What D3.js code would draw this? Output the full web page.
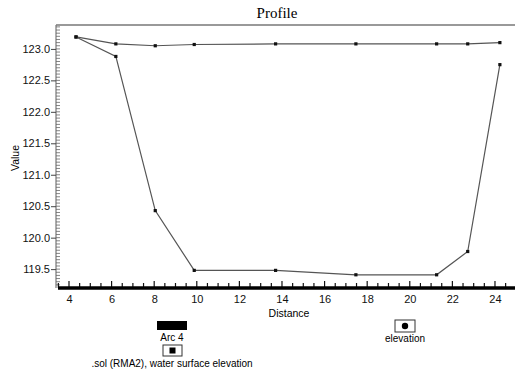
<!DOCTYPE html>
<html>
<head>
<meta charset="utf-8">
<script src="https://cdn.jsdelivr.net/npm/d3@7"></script>
<style>
  body { margin: 0; background: #fff; }
  text { font-family: "Liberation Sans", Arial, sans-serif; }
</style>
</head>
<body>
<svg id="chart" width="515" height="373"></svg>
<script>
// distances along the arc
var distance = [4.33, 6.2, 8.05, 9.88, 13.7, 17.47, 21.26, 22.72, 24.23];
// .sol (RMA2) water surface elevation
var waterSurface = [123.19, 123.08, 123.05, 123.07, 123.08, 123.08, 123.08, 123.08, 123.1];
// bed elevation
var elevation = [123.19, 122.88, 120.43, 119.48, 119.48, 119.41, 119.41, 119.78, 122.75];

var xTicks = [4, 6, 8, 10, 12, 14, 16, 18, 20, 22, 24];
var yTicks = [119.5, 120.0, 120.5, 121.0, 121.5, 122.0, 122.5, 123.0];

var svg = d3.select("#chart");
var plotLeft = 56, plotRight = 515, plotTop = 25, plotBottom = 288;

var x = d3.scaleLinear().domain([3.39, 24.94]).range([plotLeft, plotRight]);
var y = d3.scaleLinear().domain([119.2, 123.38]).range([plotBottom, plotTop]);

// title
svg.append("text")
  .attr("x", 277).attr("y", 18)
  .attr("text-anchor", "middle")
  .style("font-family", "'Liberation Serif', 'Times New Roman', serif")
  .style("font-size", "15px")
  .text("Profile");

// frame lines (top and left)
svg.append("line").attr("x1", plotLeft).attr("x2", plotRight).attr("y1", plotTop).attr("y2", plotTop)
  .attr("stroke", "#777").attr("stroke-width", 1.5);
svg.append("line").attr("x1", plotLeft).attr("x2", plotLeft).attr("y1", plotTop).attr("y2", plotBottom)
  .attr("stroke", "#777").attr("stroke-width", 1.2);

// y axis minor ticks
var yMinor = d3.range(119.25, 123.38, 0.05);
svg.append("g").selectAll("line").data(yMinor).join("line")
  .attr("x1", plotLeft).attr("x2", plotLeft + 4)
  .attr("y1", function(d) { return y(d); }).attr("y2", function(d) { return y(d); })
  .attr("stroke", "#666").attr("stroke-width", 0.8);

var yAxis = svg.append("g")
  .attr("transform", "translate(" + plotLeft + ",0)")
  .call(d3.axisLeft(y).tickValues(yTicks).tickFormat(d3.format(".1f")).tickSize(5).tickPadding(1));
yAxis.select(".domain").remove();
yAxis.selectAll("line").attr("stroke", "#444");
yAxis.selectAll("text").style("font-size", "11px").attr("fill", "#111");

// x axis: thick base line with ticks
var xMinor = d3.range(3.5, 24.95, 0.5);
svg.append("g").selectAll("line").data(xMinor).join("line")
  .attr("x1", function(d) { return x(d); }).attr("x2", function(d) { return x(d); })
  .attr("y1", plotBottom).attr("y2", function(d) { return plotBottom - (d % 2 === 0 ? 7 : 5); })
  .attr("stroke", "#111").attr("stroke-width", 1.2);

var xAxis = svg.append("g")
  .attr("transform", "translate(0," + plotBottom + ")")
  .call(d3.axisBottom(x).tickValues(xTicks).tickFormat(d3.format("d")).tickSize(0).tickPadding(7));
xAxis.select(".domain").remove();
xAxis.selectAll("text").style("font-size", "11px").attr("fill", "#111");

svg.append("line").attr("x1", 58).attr("x2", plotRight).attr("y1", plotBottom).attr("y2", plotBottom)
  .attr("stroke", "#000").attr("stroke-width", 3.5);

// axis labels
svg.append("text")
  .attr("transform", "translate(19,158) rotate(-90)")
  .attr("text-anchor", "middle")
  .style("font-size", "10.5px")
  .text("Value");
svg.append("text")
  .attr("x", 289).attr("y", 317)
  .attr("text-anchor", "middle")
  .style("font-size", "10.5px")
  .text("Distance");

// series
var line = d3.line()
  .x(function(d) { return x(d[0]); })
  .y(function(d) { return y(d[1]); });

function drawSeries(values) {
  var pts = distance.map(function(d, i) { return [d, values[i]]; });
  svg.append("path").datum(pts)
    .attr("d", line)
    .attr("fill", "none")
    .attr("stroke", "#555")
    .attr("stroke-width", 1.2);
  svg.append("g").selectAll("rect").data(pts).join("rect")
    .attr("x", function(d) { return x(d[0]) - 1.6; })
    .attr("y", function(d) { return y(d[1]) - 1.6; })
    .attr("width", 3.2).attr("height", 3.2)
    .attr("fill", "#111");
}
drawSeries(waterSurface);
drawSeries(elevation);

// legend: Arc 4 / water surface
svg.append("rect").attr("x", 157).attr("y", 321).attr("width", 30).attr("height", 9).attr("fill", "#000");
svg.append("text").attr("x", 172).attr("y", 341).attr("text-anchor", "middle")
  .style("font-size", "10px").text("Arc 4");
svg.append("rect").attr("x", 163).attr("y", 345).attr("width", 19).attr("height", 11)
  .attr("fill", "#fff").attr("stroke", "#333").attr("stroke-width", 1);
svg.append("rect").attr("x", 169.5).attr("y", 347.5).attr("width", 6).attr("height", 6).attr("fill", "#000");
svg.append("text").attr("x", 172).attr("y", 367).attr("text-anchor", "middle")
  .style("font-size", "10px").text(".sol (RMA2), water surface elevation");

// legend: elevation
svg.append("rect").attr("x", 395).attr("y", 320).attr("width", 20).attr("height", 12)
  .attr("fill", "#fff").attr("stroke", "#333").attr("stroke-width", 1);
svg.append("circle").attr("cx", 405).attr("cy", 326).attr("r", 3.2).attr("fill", "#000");
svg.append("text").attr("x", 405).attr("y", 342).attr("text-anchor", "middle")
  .style("font-size", "10px").text("elevation");
</script>
</body>
</html>
